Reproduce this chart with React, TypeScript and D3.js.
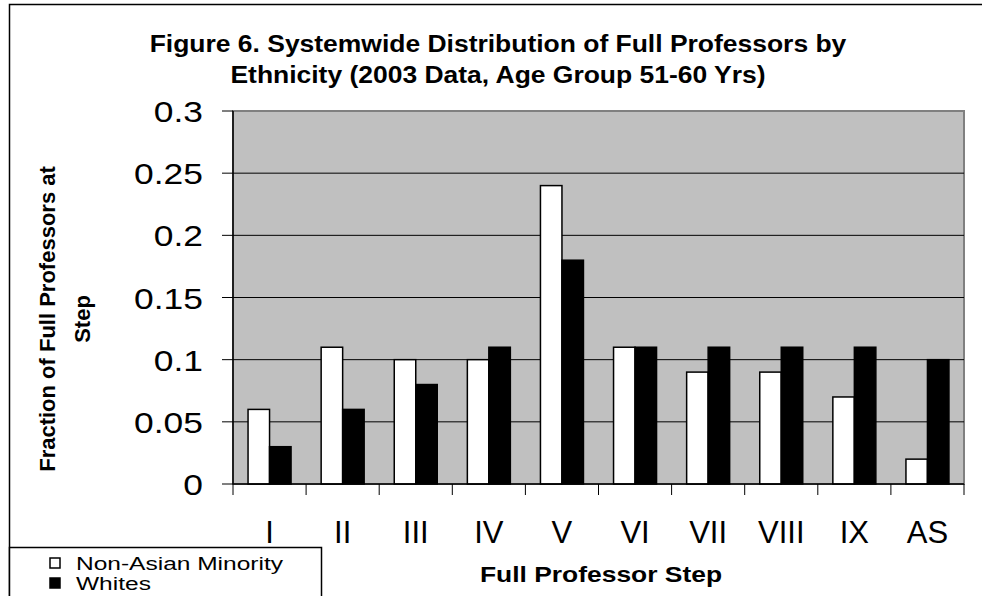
import React, { useEffect, useRef } from 'react';
import * as d3 from 'd3';

const steps = ['I', 'II', 'III', 'IV', 'V', 'VI', 'VII', 'VIII', 'IX', 'AS'];
const nonAsianMinority = [0.06, 0.11, 0.1, 0.1, 0.24, 0.11, 0.09, 0.09, 0.07, 0.02];
const whites = [0.03, 0.06, 0.08, 0.11, 0.18, 0.11, 0.11, 0.11, 0.11, 0.1];
const yTicks = [0, 0.05, 0.1, 0.15, 0.2, 0.25, 0.3];
const seriesNames = ['Non-Asian Minority', 'Whites'];
const seriesColors = ['#ffffff', '#000000'];
const titleLines = [
  'Figure 6.  Systemwide Distribution of Full Professors by',
  'Ethnicity (2003 Data, Age Group 51-60 Yrs)'
];

const W = 982;
const H = 596;
const FONT = 'Liberation Sans, Arial, sans-serif';

// the original text is drawn a little wider than plain Arial
function widen(sel: any, factor: number) {
  sel.each(function (this: SVGTextElement) {
    const len = this.getComputedTextLength();
    d3.select(this).attr('textLength', len * factor).attr('lengthAdjust', 'spacingAndGlyphs');
  });
}

export default function App() {
  const ref = useRef<SVGSVGElement>(null);

  useEffect(() => {
    const svg = d3.select(ref.current);
    svg.selectAll('*').remove();

    const left = 233, right = 964, top = 111, bottom = 484;

    const x = d3.scaleBand().domain(steps).range([left, right]).paddingInner(0).paddingOuter(0);
    const inner = d3.scaleBand().domain(['0', '1']).range([0, x.bandwidth()]).paddingInner(0).paddingOuter(0.7);
    const y = d3.scaleLinear().domain([0, 0.3]).range([bottom, top]);

    // outer chart border
    svg.append('rect')
      .attr('x', 9.5).attr('y', 4.5)
      .attr('width', 990).attr('height', 640)
      .attr('fill', '#fff').attr('stroke', '#000').attr('stroke-width', 1.5);

    // title
    const title = svg.selectAll('text.title')
      .data(titleLines)
      .enter().append('text')
      .attr('class', 'title')
      .attr('x', 498).attr('y', (d, i) => 52 + i * 31)
      .attr('text-anchor', 'middle')
      .attr('font-family', FONT).attr('font-weight', 'bold').attr('font-size', 23)
      .text(d => d);
    widen(title, 1.15);

    // plot area
    svg.append('rect')
      .attr('x', left).attr('y', top)
      .attr('width', right - left).attr('height', bottom - top)
      .attr('fill', '#c0c0c0').attr('stroke', '#808080').attr('stroke-width', 2);

    // gridlines
    svg.append('g').selectAll('line')
      .data(yTicks.filter(t => t > 0 && t < 0.3))
      .enter().append('line')
      .attr('x1', left).attr('x2', right)
      .attr('y1', d => y(d)).attr('y2', d => y(d))
      .attr('stroke', '#000').attr('stroke-width', 1);

    // bars
    const groups = svg.append('g').selectAll('g')
      .data(steps)
      .enter().append('g')
      .attr('transform', d => `translate(${x(d)},0)`);

    groups.selectAll('rect')
      .data((d, i) => [nonAsianMinority[i], whites[i]])
      .enter().append('rect')
      .attr('x', (d, j) => inner(String(j)) as number)
      .attr('y', d => y(d))
      .attr('width', inner.bandwidth())
      .attr('height', d => bottom - y(d))
      .attr('fill', (d, j) => seriesColors[j])
      .attr('stroke', '#000').attr('stroke-width', 1.5);

    // y axis
    const yAxis = svg.append('g');
    yAxis.append('line')
      .attr('x1', left).attr('x2', left).attr('y1', top).attr('y2', bottom)
      .attr('stroke', '#000').attr('stroke-width', 1.5);
    yAxis.selectAll('line.tick')
      .data(yTicks)
      .enter().append('line')
      .attr('class', 'tick')
      .attr('x1', left - 11).attr('x2', left)
      .attr('y1', d => y(d)).attr('y2', d => y(d))
      .attr('stroke', '#000').attr('stroke-width', 1);
    const yLabels = yAxis.selectAll('text')
      .data(yTicks)
      .enter().append('text')
      .attr('x', 203).attr('y', d => y(d) + 11)
      .attr('text-anchor', 'end')
      .attr('font-family', FONT).attr('font-size', 30)
      .text(d => String(d));
    widen(yLabels, 1.18);

    // x axis
    const xAxis = svg.append('g');
    xAxis.append('line')
      .attr('x1', left).attr('x2', right).attr('y1', bottom).attr('y2', bottom)
      .attr('stroke', '#000').attr('stroke-width', 1.5);
    xAxis.selectAll('line.tick')
      .data(d3.range(steps.length + 1))
      .enter().append('line')
      .attr('class', 'tick')
      .attr('x1', i => left + i * x.step()).attr('x2', i => left + i * x.step())
      .attr('y1', bottom).attr('y2', bottom + 11)
      .attr('stroke', '#000').attr('stroke-width', 1);
    xAxis.selectAll('text')
      .data(steps)
      .enter().append('text')
      .attr('x', d => (x(d) as number) + x.bandwidth() / 2)
      .attr('y', 543)
      .attr('text-anchor', 'middle')
      .attr('font-family', FONT).attr('font-size', 31)
      .text(d => d);

    // axis titles
    const xTitle = svg.append('text')
      .attr('x', 601).attr('y', 582)
      .attr('text-anchor', 'middle')
      .attr('font-family', FONT).attr('font-weight', 'bold').attr('font-size', 22)
      .text('Full Professor Step');
    widen(xTitle, 1.2);

    const yTitle = svg.append('text')
      .attr('transform', 'translate(0,319) rotate(-90)')
      .attr('text-anchor', 'middle')
      .attr('font-family', FONT).attr('font-weight', 'bold').attr('font-size', 22);
    yTitle.append('tspan').attr('x', 0).attr('y', 55).text('Fraction of Full Professors at');
    yTitle.append('tspan').attr('x', 0).attr('y', 90).text('Step');

    // legend
    const legend = svg.append('g');
    legend.append('rect')
      .attr('x', 9.5).attr('y', 547.5).attr('width', 312).attr('height', 80)
      .attr('fill', '#fff').attr('stroke', '#000').attr('stroke-width', 1.5);
    const items = legend.selectAll('g')
      .data(seriesNames)
      .enter().append('g')
      .attr('transform', (d, i) => `translate(0,${i * 20})`);
    items.append('rect')
      .attr('x', 50).attr('y', 558).attr('width', 10).attr('height', 10)
      .attr('fill', (d, i) => seriesColors[i])
      .attr('stroke', '#000').attr('stroke-width', 1.5);
    const legendText = items.append('text')
      .attr('x', 76).attr('y', 570)
      .attr('font-family', FONT).attr('font-size', 17.5)
      .text(d => d);
    widen(legendText, 1.4);
  }, []);

  return (
    <div style={{ position: 'absolute', left: 0, top: 0 }}>
      <svg ref={ref} width={W} height={H} style={{ display: 'block', background: '#fff' }} />
    </div>
  );
}
